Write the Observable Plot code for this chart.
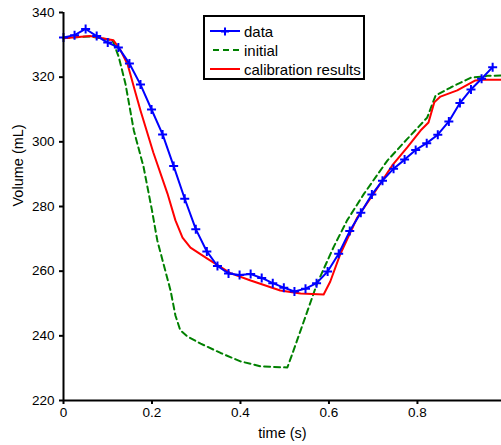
<!DOCTYPE html>
<html>
<head>
<meta charset="utf-8">
<script src="https://cdn.jsdelivr.net/npm/d3@7"></script>
<script src="https://cdn.jsdelivr.net/npm/@observablehq/plot@0.6"></script>
<style>
  body { margin: 0; background: #fff; }
  #wrap { position: relative; width: 501px; height: 445px; font-family: Arial, "Liberation Sans", sans-serif; }
  #legend { position: absolute; left: 203px; top: 15px; width: 158px; height: 61px; border: 2px solid #000; background: #fff; font-size: 15px; color: #000; }
  #legend .row { position: absolute; left: 5px; height: 16px; display: flex; align-items: center; }
  #legend svg { margin-right: 3px; }
</style>
</head>
<body>
<div id="wrap"></div>
<script>
// data (blue, with + markers)
const dataTime = [0, 0.025, 0.05, 0.075, 0.1, 0.124, 0.149, 0.174, 0.199, 0.224, 0.249, 0.274, 0.299, 0.324, 0.348, 0.373, 0.398, 0.423, 0.448, 0.473, 0.498, 0.522, 0.547, 0.572, 0.597, 0.622, 0.647, 0.672, 0.697, 0.721, 0.746, 0.771, 0.796, 0.821, 0.846, 0.871, 0.896, 0.921, 0.945, 0.970];
const dataVolume = [332.3, 333.0, 334.9, 332.7, 330.7, 329.2, 324.2, 317.7, 310.0, 302.3, 292.5, 282.4, 273.0, 266.1, 261.6, 259.3, 258.8, 259.1, 257.9, 256.3, 254.9, 253.7, 254.6, 256.3, 259.9, 265.4, 272.4, 278.1, 283.7, 288.0, 291.7, 294.5, 297.5, 299.6, 302.2, 306.3, 312.0, 316.2, 319.5, 323.1];

// initial (green dashed)
const initTime = [0, 0.06, 0.111, 0.125, 0.140, 0.159, 0.181, 0.200, 0.212, 0.230, 0.242, 0.253, 0.264, 0.280, 0.310, 0.355, 0.400, 0.445, 0.506, 0.520, 0.536, 0.573, 0.611, 0.641, 0.679, 0.732, 0.777, 0.822, 0.841, 0.875, 0.920, 0.958, 0.99];
const initVolume = [332.1, 332.6, 331.4, 326.2, 318.0, 303.5, 292.2, 278.8, 269.5, 260.2, 254.0, 246.3, 241.7, 239.8, 237.6, 234.7, 232.1, 230.6, 230.2, 235.5, 241.7, 256.1, 267.6, 275.7, 283.9, 294.2, 300.9, 307.5, 314.3, 316.8, 319.8, 320.4, 320.5];

// calibration results (red)
const calTime = [0, 0.06, 0.113, 0.129, 0.145, 0.163, 0.174, 0.203, 0.235, 0.253, 0.269, 0.287, 0.325, 0.377, 0.423, 0.490, 0.536, 0.588, 0.603, 0.626, 0.664, 0.701, 0.743, 0.777, 0.807, 0.825, 0.838, 0.852, 0.890, 0.931, 0.949, 0.99];
const calVolume = [332.0, 332.7, 331.4, 328.3, 323.9, 315.0, 309.7, 296.7, 284.0, 275.7, 270.4, 267.3, 263.9, 259.4, 257.1, 254.0, 253.1, 252.8, 256.8, 265.4, 276.6, 284.0, 292.7, 298.3, 303.5, 306.0, 312.2, 314.0, 315.9, 319.0, 319.2, 319.2];

const xTicks = [0, 0.2, 0.4, 0.6, 0.8];
const yTicks = [220, 240, 260, 280, 300, 320, 340];

const seriesNames = ["data", "initial", "calibration results"];
const seriesColors = ["#0000ff", "#008000", "#ff0000"];

const toRows = (ts, vs) => ts.map((t, i) => ({t, v: vs[i]}));
const dataRows = toRows(dataTime, dataVolume);
const initRows = toRows(initTime, initVolume);
const calRows = toRows(calTime, calVolume);

const plusSymbol = {
  draw(context, size) {
    const r = Math.sqrt(size / Math.PI);
    context.moveTo(-r, 0); context.lineTo(r, 0);
    context.moveTo(0, -r); context.lineTo(0, r);
  }
};

const font = "Arial, 'Liberation Sans', sans-serif";

const chart = Plot.plot({
  width: 501,
  height: 445,
  marginLeft: 63,
  marginRight: 0,
  marginTop: 12,
  marginBottom: 45,
  style: {fontFamily: font, fontSize: "13.5px", color: "#000", background: "#fff", overflow: "visible"},
  x: {domain: [0, 0.99]},
  y: {domain: [220, 340]},
  marks: [
    Plot.line(initRows, {x: "t", y: "v", stroke: seriesColors[1], strokeWidth: 2, strokeDasharray: "6,4"}),
    Plot.line(calRows, {x: "t", y: "v", stroke: seriesColors[2], strokeWidth: 2}),
    Plot.line(dataRows, {x: "t", y: "v", stroke: seriesColors[0], strokeWidth: 2}),
    Plot.dot(dataRows, {x: "t", y: "v", symbol: plusSymbol, r: 4.5, stroke: seriesColors[0], strokeWidth: 2, fill: "none"}),
    Plot.axisY({ticks: yTicks, tickSize: 4, tickPadding: 5, label: null, strokeWidth: 2, fontSize: 13.5}),
    Plot.axisX({ticks: xTicks, tickSize: 4, tickPadding: 3, label: null, strokeWidth: 2, fontSize: 13.5, tickFormat: d => String(d)}),
    Plot.ruleX([0], {stroke: "#000", strokeWidth: 2}),
    Plot.ruleY([220], {stroke: "#000", strokeWidth: 2}),
    Plot.text(["Volume (mL)"], {frameAnchor: "left", dx: -45, rotate: -90, fontSize: 14.5, fill: "#000"}),
    Plot.text(["time (s)"], {frameAnchor: "bottom", dy: 37, fontSize: 14.5, fill: "#000"})
  ]
});

const wrap = document.getElementById("wrap");
wrap.appendChild(chart);

// legend
const legend = document.createElement("div");
legend.id = "legend";
const rowTops = [6, 25, 44];
seriesNames.forEach((name, i) => {
  const row = document.createElement("div");
  row.className = "row";
  row.style.top = rowTops[i] + "px";
  const sw = d3.create("svg").attr("width", 31).attr("height", 16);
  sw.append("line").attr("x1", 0).attr("x2", 30).attr("y1", 8).attr("y2", 8)
    .attr("stroke", seriesColors[i]).attr("stroke-width", 2)
    .attr("stroke-dasharray", i === 1 ? "6,4" : null)
    .attr("transform", i === 1 ? "translate(3,0)" : null);
  if (i === 0) {
    sw.append("path").attr("d", "M11,8.5H19M15,4.5V12.5").attr("stroke", seriesColors[0]).attr("stroke-width", 2);
  }
  row.appendChild(sw.node());
  const label = document.createElement("span");
  label.textContent = name;
  row.appendChild(label);
  legend.appendChild(row);
});
wrap.appendChild(legend);
</script>
</body>
</html>
